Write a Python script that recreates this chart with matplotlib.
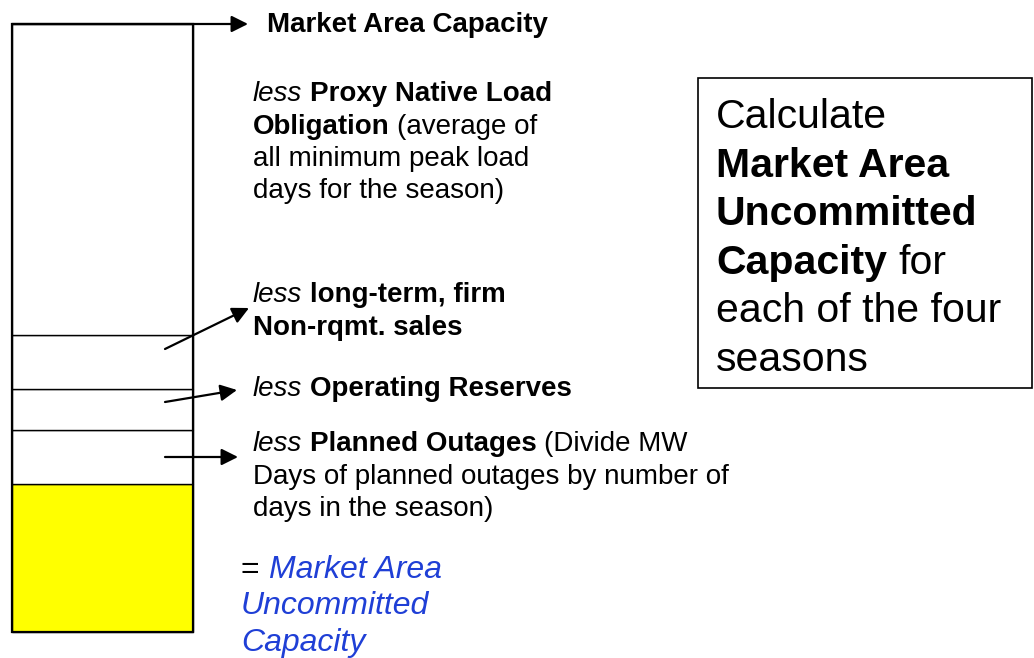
import matplotlib
matplotlib.use("Agg")
import matplotlib.pyplot as plt
from matplotlib.patches import Rectangle

plt.rcParams["font.family"] = ["Liberation Sans", "DejaVu Sans"]

W, H = 1034, 658

# stacked capacity column, bottom to top
segment_names = ["Uncommitted", "Planned Outages", "Operating Reserves",
                 "Non-rqmt. sales", "Native Load"]
segment_sizes = [148, 54, 41, 54, 311]
segment_colors = ["#ffff00", "white", "white", "white", "white"]

# label lines: list of (text, style) runs, per line
cap_label = [[("Market Area Capacity", "b")]]
native_lines = [
    [("less", "i"), ("Proxy Native Load", "b")],
    [("Obligation", "b"), ("(average of", "n")],
    [("all minimum peak load", "n")],
    [("days for the season)", "n")],
]
sales_lines = [
    [("less", "i"), ("long-term, firm", "b")],
    [("Non-rqmt. sales", "b")],
]
reserve_lines = [[("less", "i"), ("Operating Reserves", "b")]]
outage_lines = [
    [("less", "i"), ("Planned Outages", "b"), ("(Divide MW", "n")],
    [("Days of planned outages by number of", "n")],
    [("days in the season)", "n")],
]
result_lines = [
    [("=", "n"), ("Market Area", "blue")],
    [("Uncommitted", "blue")],
    [("Capacity", "blue")],
]
box_lines = [
    [("Calculate", "n")],
    [("Market Area", "b")],
    [("Uncommitted", "b")],
    [("Capacity", "b"), ("for", "n")],
    [("each of the four", "n")],
    [("seasons", "n")],
]

fig = plt.figure(figsize=(W / 100, H / 100), dpi=100)
ax = fig.add_axes([0, 0, 1, 1])
ax.set_xlim(0, W)
ax.set_ylim(0, H)
ax.axis("off")
renderer = fig.canvas.get_renderer()


def Y(y):
    return H - y


def put_line(runs, x, y, size):
    space = size * 100 / 72 * 0.278
    for txt, style in runs:
        t = ax.text(x, Y(y), txt, fontsize=size,
                    color="#1f3fd6" if style == "blue" else "black",
                    fontweight="bold" if style == "b" else "normal",
                    fontstyle="italic" if style in ("i", "blue") else "normal",
                    va="baseline", ha="left")
        x += t.get_window_extent(renderer).width + space


def put_block(lines, x, y0, step, size):
    for k, runs in enumerate(lines):
        put_line(runs, x, y0 + k * step, size)


# column
x0, bw, base = 12, 181, 26
bottom = base
for name, h, c in zip(segment_names, segment_sizes, segment_colors):
    ax.bar(x0, h, width=bw, bottom=bottom, align="edge", color=c,
           edgecolor="black", linewidth=1)
    bottom += h
ax.add_patch(Rectangle((x0, base), bw, bottom - base, fill=False,
                       edgecolor="black", linewidth=1.6))

arrow = dict(arrowstyle="-|>,head_length=0.5,head_width=0.25", color="black",
             lw=1.6, mutation_scale=20, shrinkA=0, shrinkB=0)
ax.annotate("", xy=(248, Y(24)), xytext=(x0, Y(24)), arrowprops=arrow)
ax.annotate("", xy=(249, Y(308)), xytext=(165, Y(349)), arrowprops=arrow)
ax.annotate("", xy=(237, Y(390)), xytext=(165, Y(402)), arrowprops=arrow)
ax.annotate("", xy=(238, Y(457)), xytext=(165, Y(457)), arrowprops=arrow)

fs = 20
put_block(cap_label, 267, 32, 32.5, fs)
put_block(native_lines, 253, 101, 32.5, fs)
put_block(sales_lines, 253, 302.5, 32.5, fs)
put_block(reserve_lines, 253, 396.5, 32.5, fs)
put_block(outage_lines, 253, 451, 32.5, fs)
put_block(result_lines, 241, 578, 36.5, 23)

ax.add_patch(Rectangle((698, Y(388)), 334, 310, fill=False,
                       edgecolor="black", linewidth=1.2))
put_block(box_lines, 716, 128, 48.6, 29.5)

fig.savefig("out.png", dpi=100)
